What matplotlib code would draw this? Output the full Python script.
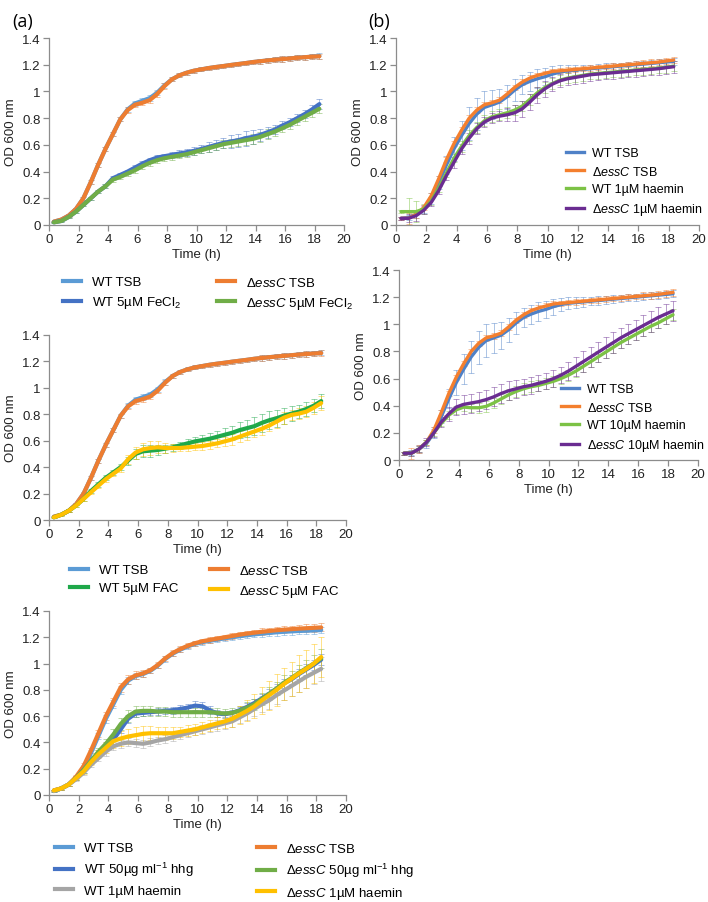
import matplotlib
matplotlib.use('Agg')
import matplotlib.pyplot as plt
from matplotlib.lines import Line2D

plt.rcParams['font.family'] = ['Liberation Sans', 'DejaVu Sans']
plt.rcParams['mathtext.fontset'] = 'custom'
plt.rcParams['mathtext.rm'] = 'Liberation Sans'
plt.rcParams['mathtext.it'] = 'Liberation Sans:italic'

# sampling times (h)
time_h = [0.33, 0.83, 1.33, 1.83, 2.33, 2.83, 3.33, 3.83, 4.33, 4.83, 5.33, 5.83, 6.33,
          6.83, 7.33, 7.83, 8.33, 8.83, 9.33, 9.83, 10.33, 10.83, 11.33, 11.83, 12.33,
          12.83, 13.33, 13.83, 14.33, 14.83, 15.33, 15.83, 16.33, 16.83, 17.33, 17.83, 18.33]

# ---- panel (a), top and middle: TSB controls
a_wt_tsb = [0.025, 0.04, 0.07, 0.12, 0.2, 0.32, 0.45, 0.57, 0.68, 0.79, 0.865, 0.91, 0.93,
            0.95, 0.99, 1.045, 1.09, 1.12, 1.14, 1.155, 1.165, 1.175, 1.183, 1.19, 1.198,
            1.205, 1.212, 1.22, 1.226, 1.232, 1.237, 1.242, 1.247, 1.252, 1.256, 1.26, 1.265]
a_dessc_tsb = [0.025, 0.04, 0.07, 0.12, 0.2, 0.32, 0.45, 0.57, 0.68, 0.79, 0.86, 0.9, 0.915,
               0.935, 0.98, 1.04, 1.09, 1.12, 1.14, 1.155, 1.165, 1.175, 1.183, 1.19, 1.198,
               1.205, 1.212, 1.22, 1.226, 1.232, 1.237, 1.242, 1.247, 1.252, 1.256, 1.26, 1.263]
a_tsb_err = [0.005, 0.005, 0.01, 0.01, 0.01, 0.015, 0.015, 0.015, 0.015, 0.015, 0.02, 0.02, 0.02,
             0.02, 0.02, 0.02, 0.015, 0.015, 0.015, 0.015, 0.015, 0.015, 0.015, 0.015, 0.015,
             0.015, 0.015, 0.015, 0.02, 0.02, 0.02, 0.02, 0.02, 0.02, 0.02, 0.02, 0.02]

# FeCl2
wt_fecl2 = [0.02, 0.03, 0.06, 0.1, 0.15, 0.2, 0.25, 0.29, 0.35, 0.375, 0.4, 0.43, 0.46,
            0.485, 0.505, 0.515, 0.525, 0.535, 0.545, 0.555, 0.57, 0.585, 0.6, 0.615, 0.625,
            0.635, 0.65, 0.66, 0.675, 0.695, 0.715, 0.745, 0.77, 0.8, 0.83, 0.865, 0.905]
wt_fecl2_err = [0.005, 0.01, 0.01, 0.01, 0.01, 0.01, 0.01, 0.015, 0.015, 0.015, 0.015, 0.02, 0.02,
                0.02, 0.02, 0.02, 0.02, 0.025, 0.025, 0.03, 0.03, 0.035, 0.035, 0.04, 0.05,
                0.05, 0.055, 0.05, 0.045, 0.04, 0.035, 0.03, 0.03, 0.03, 0.03, 0.03, 0.035]
dessc_fecl2 = [0.02, 0.03, 0.06, 0.1, 0.15, 0.2, 0.25, 0.29, 0.34, 0.36, 0.385, 0.41, 0.44,
               0.465, 0.485, 0.5, 0.51, 0.52, 0.53, 0.545, 0.56, 0.575, 0.59, 0.605, 0.615,
               0.625, 0.635, 0.645, 0.66, 0.68, 0.7, 0.725, 0.75, 0.78, 0.81, 0.84, 0.87]
dessc_fecl2_err = [0.005, 0.01, 0.01, 0.01, 0.01, 0.01, 0.01, 0.015, 0.015, 0.015, 0.015, 0.02, 0.02,
                   0.02, 0.02, 0.02, 0.02, 0.02, 0.02, 0.02, 0.02, 0.025, 0.025, 0.03, 0.03,
                   0.03, 0.035, 0.035, 0.035, 0.035, 0.03, 0.03, 0.03, 0.03, 0.03, 0.03, 0.035]

# FAC
wt_fac = [0.02, 0.04, 0.07, 0.11, 0.16, 0.22, 0.27, 0.32, 0.36, 0.4, 0.45, 0.5, 0.52,
          0.525, 0.53, 0.54, 0.55, 0.565, 0.58, 0.595, 0.605, 0.615, 0.63, 0.645, 0.66,
          0.68, 0.695, 0.71, 0.735, 0.755, 0.77, 0.79, 0.805, 0.82, 0.84, 0.865, 0.9]
wt_fac_err = [0.005, 0.01, 0.01, 0.01, 0.015, 0.015, 0.02, 0.02, 0.02, 0.025, 0.03, 0.04, 0.045,
              0.045, 0.04, 0.03, 0.025, 0.025, 0.03, 0.03, 0.035, 0.04, 0.045, 0.05, 0.055,
              0.06, 0.065, 0.07, 0.07, 0.07, 0.065, 0.06, 0.055, 0.05, 0.05, 0.05, 0.05]
dessc_fac = [0.02, 0.04, 0.07, 0.11, 0.16, 0.21, 0.26, 0.31, 0.35, 0.39, 0.46, 0.51, 0.535,
             0.545, 0.55, 0.545, 0.545, 0.545, 0.55, 0.555, 0.56, 0.57, 0.58, 0.595, 0.61,
             0.63, 0.65, 0.67, 0.69, 0.715, 0.745, 0.775, 0.795, 0.805, 0.82, 0.85, 0.885]
dessc_fac_err = [0.005, 0.01, 0.01, 0.01, 0.015, 0.015, 0.02, 0.02, 0.02, 0.025, 0.035, 0.045, 0.05,
                 0.05, 0.045, 0.04, 0.03, 0.025, 0.025, 0.025, 0.03, 0.03, 0.03, 0.035, 0.04,
                 0.04, 0.045, 0.045, 0.045, 0.045, 0.045, 0.045, 0.04, 0.04, 0.04, 0.045, 0.05]

# ---- panel (a), bottom
a3_wt_tsb = [0.035, 0.05, 0.08, 0.13, 0.21, 0.32, 0.45, 0.58, 0.69, 0.8, 0.87, 0.905, 0.92,
             0.945, 0.985, 1.035, 1.075, 1.105, 1.13, 1.15, 1.163, 1.173, 1.183, 1.192, 1.2,
             1.208, 1.215, 1.222, 1.228, 1.233, 1.238, 1.242, 1.245, 1.248, 1.25, 1.252, 1.255]
a3_wt_tsb_err = [0.005, 0.01, 0.01, 0.015, 0.02, 0.02, 0.025, 0.03, 0.03, 0.03, 0.025, 0.02, 0.02,
                 0.02, 0.02, 0.02, 0.02, 0.02, 0.02, 0.02, 0.02, 0.02, 0.02, 0.02, 0.02,
                 0.02, 0.02, 0.02, 0.025, 0.025, 0.025, 0.025, 0.025, 0.025, 0.025, 0.025, 0.025]
a3_dessc_tsb = [0.035, 0.05, 0.08, 0.14, 0.22, 0.34, 0.47, 0.6, 0.71, 0.82, 0.88, 0.91, 0.925,
                0.95, 0.99, 1.04, 1.08, 1.11, 1.135, 1.155, 1.17, 1.18, 1.19, 1.2, 1.21,
                1.22, 1.228, 1.235, 1.242, 1.248, 1.254, 1.258, 1.262, 1.266, 1.269, 1.272, 1.275]
a3_dessc_tsb_err = [0.005, 0.01, 0.01, 0.015, 0.02, 0.02, 0.025, 0.03, 0.03, 0.035, 0.035, 0.03, 0.025,
                    0.02, 0.02, 0.02, 0.02, 0.02, 0.02, 0.02, 0.02, 0.02, 0.02, 0.02, 0.02,
                    0.02, 0.02, 0.02, 0.025, 0.025, 0.025, 0.025, 0.025, 0.025, 0.03, 0.03, 0.03]
wt_hhg = [0.03, 0.05, 0.08, 0.13, 0.19, 0.26, 0.32, 0.37, 0.42, 0.5, 0.58, 0.62, 0.625,
          0.63, 0.635, 0.64, 0.645, 0.655, 0.665, 0.68, 0.675, 0.645, 0.62, 0.615, 0.625,
          0.645, 0.67, 0.7, 0.735, 0.77, 0.81, 0.85, 0.88, 0.92, 0.955, 0.99, 1.03]
wt_hhg_err = [0.005, 0.01, 0.01, 0.015, 0.02, 0.02, 0.025, 0.03, 0.03, 0.03, 0.03, 0.025, 0.025,
              0.025, 0.025, 0.025, 0.025, 0.03, 0.03, 0.035, 0.035, 0.03, 0.025, 0.025, 0.025,
              0.025, 0.03, 0.03, 0.03, 0.035, 0.035, 0.035, 0.035, 0.04, 0.04, 0.04, 0.04]
dessc_hhg = [0.03, 0.05, 0.08, 0.13, 0.19, 0.26, 0.33, 0.39, 0.46, 0.54, 0.6, 0.635, 0.64,
             0.64, 0.635, 0.635, 0.63, 0.63, 0.63, 0.63, 0.63, 0.63, 0.625, 0.62, 0.625,
             0.64, 0.665, 0.69, 0.73, 0.77, 0.81, 0.855, 0.89, 0.93, 0.965, 1.0, 1.04]
dessc_hhg_err = [0.005, 0.01, 0.01, 0.015, 0.02, 0.025, 0.03, 0.035, 0.04, 0.045, 0.045, 0.045, 0.04,
                 0.04, 0.035, 0.035, 0.035, 0.035, 0.035, 0.035, 0.035, 0.035, 0.035, 0.035, 0.035,
                 0.035, 0.04, 0.04, 0.045, 0.05, 0.05, 0.055, 0.055, 0.06, 0.06, 0.065, 0.07]
wt_haem1 = [0.03, 0.05, 0.08, 0.12, 0.17, 0.23, 0.28, 0.33, 0.37, 0.39, 0.4, 0.395, 0.39,
            0.4, 0.415, 0.425, 0.44, 0.455, 0.47, 0.485, 0.5, 0.515, 0.53, 0.545, 0.56,
            0.59, 0.62, 0.655, 0.69, 0.72, 0.76, 0.795, 0.83, 0.865, 0.9, 0.93, 0.96]
wt_haem1_err = [0.005, 0.01, 0.01, 0.015, 0.02, 0.02, 0.025, 0.03, 0.03, 0.03, 0.03, 0.03, 0.03,
                0.03, 0.03, 0.03, 0.03, 0.03, 0.03, 0.03, 0.035, 0.035, 0.04, 0.04, 0.045,
                0.045, 0.05, 0.055, 0.06, 0.065, 0.07, 0.075, 0.08, 0.08, 0.085, 0.085, 0.09]
dessc_haem1 = [0.035, 0.05, 0.08, 0.13, 0.18, 0.25, 0.31, 0.36, 0.41, 0.43, 0.445, 0.455, 0.465,
               0.47, 0.47, 0.47, 0.47, 0.48, 0.49, 0.5, 0.515, 0.53, 0.545, 0.56, 0.58,
               0.61, 0.64, 0.675, 0.72, 0.76, 0.8, 0.845, 0.885, 0.925, 0.96, 1.0, 1.05]
dessc_haem1_err = [0.005, 0.01, 0.01, 0.015, 0.02, 0.025, 0.03, 0.04, 0.05, 0.055, 0.06, 0.06, 0.06,
                   0.055, 0.05, 0.05, 0.045, 0.04, 0.04, 0.04, 0.04, 0.04, 0.045, 0.05, 0.06,
                   0.07, 0.08, 0.09, 0.1, 0.11, 0.12, 0.125, 0.13, 0.14, 0.145, 0.15, 0.155]

# ---- panel (b)
b_wt_tsb = [0.05, 0.055, 0.08, 0.12, 0.2, 0.32, 0.45, 0.57, 0.67, 0.76, 0.83, 0.88, 0.9,
            0.92, 0.96, 1.01, 1.05, 1.075, 1.095, 1.11, 1.13, 1.145, 1.155, 1.16, 1.165,
            1.17, 1.175, 1.18, 1.185, 1.19, 1.195, 1.2, 1.205, 1.21, 1.215, 1.22, 1.225]
b_wt_tsb_err = [0.01, 0.02, 0.03, 0.03, 0.04, 0.05, 0.07, 0.09, 0.11, 0.12, 0.12, 0.12, 0.11,
                0.1, 0.09, 0.08, 0.07, 0.07, 0.07, 0.065, 0.06, 0.05, 0.045, 0.04, 0.035,
                0.03, 0.03, 0.03, 0.03, 0.025, 0.025, 0.025, 0.025, 0.025, 0.025, 0.025, 0.025]
b_dessc_tsb = [0.05, 0.05, 0.08, 0.13, 0.22, 0.35, 0.49, 0.61, 0.71, 0.8, 0.86, 0.9, 0.915,
               0.935, 0.98, 1.03, 1.07, 1.1, 1.12, 1.135, 1.15, 1.155, 1.16, 1.165, 1.17,
               1.175, 1.18, 1.185, 1.19, 1.195, 1.2, 1.205, 1.21, 1.215, 1.22, 1.228, 1.235]
b_dessc_tsb_err = [0.01, 0.04, 0.03, 0.02, 0.02, 0.02, 0.02, 0.02, 0.02, 0.02, 0.02, 0.02, 0.02,
                   0.02, 0.02, 0.02, 0.02, 0.02, 0.02, 0.02, 0.02, 0.02, 0.02, 0.02, 0.02,
                   0.02, 0.02, 0.02, 0.02, 0.02, 0.02, 0.02, 0.025, 0.025, 0.025, 0.025, 0.025]
wt_haem1_b = [0.1, 0.1, 0.1, 0.12, 0.18, 0.28, 0.39, 0.5, 0.59, 0.67, 0.73, 0.78, 0.81,
              0.825, 0.84, 0.86, 0.89, 0.94, 0.99, 1.03, 1.06, 1.085, 1.1, 1.11, 1.12,
              1.13, 1.135, 1.14, 1.145, 1.15, 1.155, 1.16, 1.165, 1.17, 1.175, 1.18, 1.19]
wt_haem1_b_err = [0.01, 0.1, 0.08, 0.04, 0.03, 0.03, 0.03, 0.03, 0.04, 0.04, 0.04, 0.04, 0.04,
                  0.04, 0.04, 0.04, 0.04, 0.04, 0.04, 0.04, 0.04, 0.04, 0.04, 0.04, 0.04,
                  0.04, 0.04, 0.04, 0.04, 0.04, 0.04, 0.04, 0.04, 0.04, 0.04, 0.04, 0.04]
dessc_haem1_b = [0.05, 0.05, 0.07, 0.11, 0.17, 0.26, 0.37, 0.47, 0.57, 0.65, 0.72, 0.77, 0.8,
                 0.815, 0.825, 0.84, 0.87, 0.92, 0.975, 1.02, 1.055, 1.08, 1.095, 1.105, 1.115,
                 1.125, 1.13, 1.135, 1.14, 1.145, 1.15, 1.155, 1.16, 1.165, 1.17, 1.178, 1.185]
dessc_haem1_b_err = [0.01, 0.03, 0.04, 0.03, 0.03, 0.03, 0.03, 0.04, 0.04, 0.04, 0.04, 0.04, 0.04,
                     0.04, 0.05, 0.06, 0.06, 0.06, 0.06, 0.06, 0.05, 0.05, 0.05, 0.05, 0.05,
                     0.05, 0.045, 0.045, 0.045, 0.045, 0.045, 0.045, 0.045, 0.045, 0.045, 0.045, 0.045]
wt_haem10 = [0.05, 0.05, 0.08, 0.13, 0.2, 0.27, 0.33, 0.37, 0.39, 0.385, 0.385, 0.395, 0.42,
             0.45, 0.48, 0.505, 0.525, 0.54, 0.55, 0.565, 0.58, 0.6, 0.625, 0.655, 0.69,
             0.725, 0.76, 0.795, 0.83, 0.865, 0.895, 0.925, 0.955, 0.985, 1.01, 1.04, 1.07]
wt_haem10_err = [0.01, 0.02, 0.02, 0.02, 0.02, 0.02, 0.03, 0.03, 0.03, 0.03, 0.035, 0.04, 0.04,
                 0.04, 0.04, 0.04, 0.04, 0.04, 0.04, 0.04, 0.04, 0.04, 0.04, 0.04, 0.04,
                 0.04, 0.04, 0.04, 0.04, 0.04, 0.04, 0.04, 0.04, 0.04, 0.04, 0.04, 0.04]
dessc_haem10 = [0.05, 0.05, 0.08, 0.13, 0.2, 0.28, 0.34, 0.39, 0.41, 0.42, 0.43, 0.445, 0.465,
                0.49, 0.51, 0.525, 0.54, 0.55, 0.565, 0.58, 0.6, 0.625, 0.655, 0.69, 0.725,
                0.76, 0.795, 0.83, 0.865, 0.9, 0.93, 0.96, 0.99, 1.02, 1.05, 1.075, 1.1]
dessc_haem10_err = [0.01, 0.02, 0.02, 0.03, 0.03, 0.04, 0.05, 0.06, 0.07, 0.07, 0.07, 0.07, 0.07,
                    0.07, 0.07, 0.065, 0.06, 0.06, 0.06, 0.06, 0.06, 0.06, 0.065, 0.07, 0.075,
                    0.075, 0.075, 0.075, 0.075, 0.075, 0.075, 0.075, 0.075, 0.075, 0.075, 0.075, 0.075]

# colours
c_lblue = '#5B9BD5'
c_orange = '#ED7D31'
c_dblue = '#4472C4'
c_green = '#70AD47'
c_dgreen = '#1FA84A'
c_yellow = '#FFC000'
c_grey = '#A5A5A5'
b_blue = '#4F81C7'
b_orange = '#F47F2E'
b_green = '#7CC245'
b_purple = '#6A2C91'

essc = r'$\Delta\mathit{essC}$'
FS = 9.5

fig = plt.figure(figsize=(7.08, 9.03), dpi=100)
W, H = 708.0, 903.0


def px_axes(left, top, right, bottom):
    return fig.add_axes([left / W, 1 - bottom / H, (right - left) / W, (bottom - top) / H])


def style(ax):
    ax.set_xlim(0, 20)
    ax.set_ylim(0, 1.4)
    ax.set_xticks(range(0, 21, 2))
    yt = [0, 0.2, 0.4, 0.6, 0.8, 1.0, 1.2, 1.4]
    ax.set_yticks(yt)
    ax.set_yticklabels(['%g' % v for v in yt])
    for s in ['top', 'right']:
        ax.spines[s].set_visible(False)
    for s in ['left', 'bottom']:
        ax.spines[s].set_color('#8c8c8c')
        ax.spines[s].set_linewidth(0.9)
    ax.tick_params(direction='out', length=4, width=0.9, color='#8c8c8c',
                   labelsize=FS, pad=2, labelcolor='#222222')
    ax.set_xlabel('Time (h)', fontsize=FS, labelpad=2, color='#222222')
    ax.set_ylabel('OD 600 nm', fontsize=FS, labelpad=4, color='#222222')


def draw(ax, series, lw):
    for y, err, col in series:
        ax.errorbar(time_h, y, yerr=err, fmt='none', ecolor=col, elinewidth=0.6,
                    capsize=2.2, capthick=0.6, alpha=0.55, zorder=1)
    for y, err, col in series:
        ax.plot(time_h, y, color=col, lw=lw, solid_capstyle='round', zorder=2)


def legend(x, y, entries, lw=3, fs=FS, pad=0.8):
    handles = [Line2D([], [], color=c, lw=lw) for _, c in entries]
    labels = [t for t, _ in entries]
    fig.legend(handles, labels, loc='upper left', bbox_to_anchor=(x / W, 1 - y / H),
               frameon=False, fontsize=fs, handlelength=1.4, handletextpad=pad,
               labelspacing=0.45, borderpad=0, borderaxespad=0)


# (a) top: FeCl2
ax1 = px_axes(49, 39, 344, 226)
draw(ax1, [(a_wt_tsb, a_tsb_err, c_lblue), (a_dessc_tsb, a_tsb_err, c_orange),
           (wt_fecl2, wt_fecl2_err, c_dblue), (dessc_fecl2, dessc_fecl2_err, c_green)], 3.0)
style(ax1)
legend(63, 277, [('WT TSB', c_lblue), (r'WT 5µM FeCl$_2$', c_dblue)])
legend(217, 277, [(essc + ' TSB', c_orange), (essc + r' 5µM FeCl$_2$', c_green)])

# (a) middle: FAC
ax2 = px_axes(49, 336, 346, 521)
draw(ax2, [(a_wt_tsb, a_tsb_err, c_lblue), (a_dessc_tsb, a_tsb_err, c_orange),
           (wt_fac, wt_fac_err, c_dgreen), (dessc_fac, dessc_fac_err, c_yellow)], 3.0)
style(ax2)
legend(70, 565, [('WT TSB', c_lblue), ('WT 5µM FAC', c_dgreen)])
legend(210, 565, [(essc + ' TSB', c_orange), (essc + ' 5µM FAC', c_yellow)])

# (a) bottom: hhg / haemin
ax3 = px_axes(49, 612, 346, 796)
draw(ax3, [(a3_wt_tsb, a3_wt_tsb_err, c_lblue), (a3_dessc_tsb, a3_dessc_tsb_err, c_orange),
           (wt_hhg, wt_hhg_err, c_dblue), (dessc_hhg, dessc_hhg_err, c_green),
           (wt_haem1, wt_haem1_err, c_grey), (dessc_haem1, dessc_haem1_err, c_yellow)], 3.0)
style(ax3)
legend(55, 843, [('WT TSB', c_lblue), (r'WT 50µg ml$^{-1}$ hhg', c_dblue),
                 ('WT 1µM haemin', c_grey)])
legend(257, 843, [(essc + ' TSB', c_orange), (essc + r' 50µg ml$^{-1}$ hhg', c_green),
                  (essc + ' 1µM haemin', c_yellow)])

# (b) top: 1 uM haemin
ax4 = px_axes(396, 39, 699, 226)
draw(ax4, [(b_wt_tsb, b_wt_tsb_err, b_blue), (b_dessc_tsb, b_dessc_tsb_err, b_orange),
           (wt_haem1_b, wt_haem1_b_err, b_green), (dessc_haem1_b, dessc_haem1_b_err, b_purple)], 2.4)
style(ax4)
legend(566, 148, [('WT TSB', b_blue), (essc + ' TSB', b_orange),
                  ('WT 1µM haemin', b_green), (essc + ' 1µM haemin', b_purple)],
       lw=2.4, fs=9.0, pad=0.7)

# (b) bottom: 10 uM haemin
ax5 = px_axes(399, 271, 698, 461)
draw(ax5, [(b_wt_tsb, b_wt_tsb_err, b_blue), (b_dessc_tsb, b_dessc_tsb_err, b_orange),
           (wt_haem10, wt_haem10_err, b_green), (dessc_haem10, dessc_haem10_err, b_purple)], 2.4)
style(ax5)
legend(561, 384, [('WT TSB', b_blue), (essc + ' TSB', b_orange),
                  ('WT 10µM haemin', b_green), (essc + ' 10µM haemin', b_purple)],
       lw=2.4, fs=9.0, pad=0.7)

fig.text(12 / W, 1 - 22 / H, '(a)', fontsize=13, family='Open Sans', va='center')
fig.text(368 / W, 1 - 22 / H, '(b)', fontsize=13, family='Open Sans', va='center')

fig.savefig('out.png', dpi=100)
